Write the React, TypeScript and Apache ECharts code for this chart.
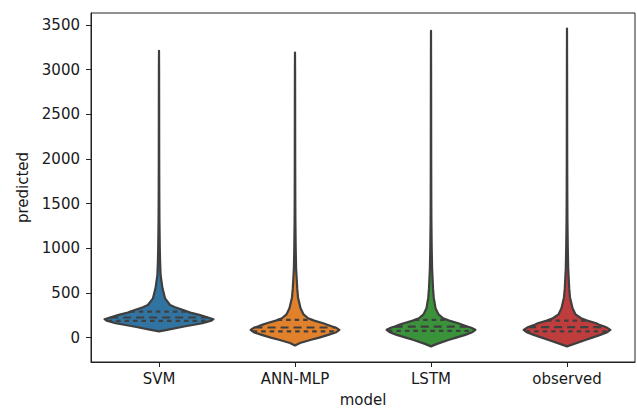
import React, { useEffect, useRef } from "react";
import * as echarts from "echarts";

const models = ["SVM", "ANN-MLP", "LSTM", "observed"];
const colors = ["#3274a1", "#e1812c", "#3a923a", "#c03d3e"];
const yTicks = [0, 500, 1000, 1500, 2000, 2500, 3000, 3500];

// [value, relative density (half-width)]
const svmProfile: number[][] = [
  [69, 0], [87, 8], [124, 25], [161, 43], [190, 52], [206, 54], [230, 47], [254, 40],
  [280, 31], [310, 24], [340, 16], [365, 11], [440, 6], [551, 3.5], [699, 1.6], [850, 1.1],
  [1000, 0.8], [1300, 0.45], [1600, 0.3], [2000, 0.2], [2500, 0.15], [3000, 0.1], [3210, 0],
];
const annProfile: number[][] = [
  [-87, 0], [-60, 5], [-24, 16], [0, 24], [31, 33], [60, 41], [87, 44], [110, 41],
  [124, 37], [145, 32], [161, 28], [190, 19], [217, 13], [260, 8.5], [328, 5.5], [450, 3],
  [551, 2.2], [773, 1.1], [1000, 0.7], [1300, 0.4], [1600, 0.28], [2000, 0.2], [2500, 0.15],
  [3000, 0.1], [3192, 0],
];
const lstmProfile: number[][] = [
  [-98, 0], [-70, 6], [-24, 18], [0, 25], [31, 34], [60, 41], [87, 44], [110, 40],
  [124, 36], [145, 31], [161, 27], [190, 18], [217, 12], [260, 7.5], [328, 4.5], [450, 2.7],
  [551, 2], [773, 1.1], [1000, 0.7], [1300, 0.4], [1600, 0.28], [2000, 0.2], [2500, 0.15],
  [3000, 0.1], [3433, 0],
];
const observedProfile: number[][] = [
  [-98, 0], [-70, 7], [-24, 19], [0, 25], [31, 33], [60, 40], [87, 43], [110, 40],
  [124, 37], [145, 32], [161, 29], [190, 20], [217, 14], [260, 8.5], [328, 5.5], [450, 3],
  [551, 2.2], [773, 1.2], [1000, 0.8], [1300, 0.45], [1600, 0.3], [2000, 0.2], [2500, 0.15],
  [3000, 0.1], [3460, 0],
];
const profiles = [svmProfile, annProfile, lstmProfile, observedProfile];

// [Q1, median, Q3]
const svmQuartiles = [187, 225, 291];
const annQuartiles = [69, 113, 198];
const lstmQuartiles = [76, 124, 198];
const observedQuartiles = [69, 117, 191];
const quartiles = [svmQuartiles, annQuartiles, lstmQuartiles, observedQuartiles];

const maxDensity = 54;

function interp(prof: number[][], v: number): number {
  for (let j = 0; j < prof.length - 1; j++) {
    const [v0, d0] = prof[j];
    const [v1, d1] = prof[j + 1];
    if (v >= v0 && v <= v1) return d0 + ((v - v0) / (v1 - v0)) * (d1 - d0);
  }
  return 0;
}

const FONT = "DejaVu Sans";
const TEXT = "#1a1a1a";
const EDGE = "#3f3f3f";
const SPINE = "#222";

export default function App() {
  const ref = useRef<HTMLDivElement>(null);
  useEffect(() => {
    document.body.style.margin = "0";
    const chart = echarts.init(ref.current!, undefined, { renderer: "svg" });
    chart.setOption({
      animation: false,
      backgroundColor: "#ffffff",
      grid: {
        left: 91, right: 2, top: 13, bottom: 48,
        show: true, borderColor: SPINE, borderWidth: 1, backgroundColor: "transparent",
      },
      xAxis: {
        type: "category",
        data: models,
        boundaryGap: true,
        name: "model",
        nameLocation: "middle",
        nameGap: 30,
        nameTextStyle: { fontFamily: FONT, fontSize: 15, color: TEXT },
        axisLine: { show: true, onZero: false, lineStyle: { color: SPINE, width: 1 } },
        axisTick: { show: true, alignWithLabel: true, length: 5, lineStyle: { color: SPINE } },
        axisLabel: { fontFamily: FONT, fontSize: 15, color: TEXT, margin: 9 },
        splitLine: { show: false },
      },
      yAxis: {
        type: "value",
        min: -273,
        max: 3634,
        name: "predicted",
        nameLocation: "middle",
        nameGap: 57,
        nameRotate: 90,
        nameTextStyle: { fontFamily: FONT, fontSize: 15, color: TEXT },
        axisLine: { show: true, onZero: false, lineStyle: { color: SPINE, width: 1 } },
        axisTick: { show: true, length: 5, customValues: yTicks, lineStyle: { color: SPINE } },
        axisLabel: {
          fontFamily: FONT, fontSize: 15, color: TEXT, margin: 11, customValues: yTicks,
          formatter: (v: number) => String(v),
        },
        splitLine: { show: false },
      },
      series: [
        {
          type: "custom",
          data: models.map((_, i) => [i, 0]),
          encode: { x: 0, y: 1 },
          clip: true,
          renderItem: (params: any, api: any) => {
            const i = api.value(0);
            const prof = profiles[i];
            const band = api.size([1, 0])[0];
            const k = (band * 0.4) / maxDensity;
            const center = api.coord([i, 0])[0];
            const right = prof.map(([v, d]) => [center + d * k, api.coord([i, v])[1]]);
            const left = prof
              .slice()
              .reverse()
              .map(([v, d]) => [center - d * k, api.coord([i, v])[1]]);
            const children: any[] = [
              {
                type: "polygon",
                shape: { points: [...right, ...left] },
                style: { fill: colors[i], stroke: EDGE, lineWidth: 2.2, lineJoin: "round" },
              },
            ];
            quartiles[i].forEach((q, j) => {
              const d = interp(prof, q) * k;
              const y = api.coord([i, q])[1];
              children.push({
                type: "line",
                shape: { x1: center - d, y1: y, x2: center + d, y2: y },
                style: {
                  stroke: EDGE,
                  lineWidth: 2.2,
                  lineDash: j === 1 ? [8, 5] : [4.5, 4],
                },
              });
            });
            return { type: "group", children };
          },
        },
      ],
    });
    return () => chart.dispose();
  }, []);
  return <div ref={ref} style={{ width: 637, height: 412 }} />;
}
